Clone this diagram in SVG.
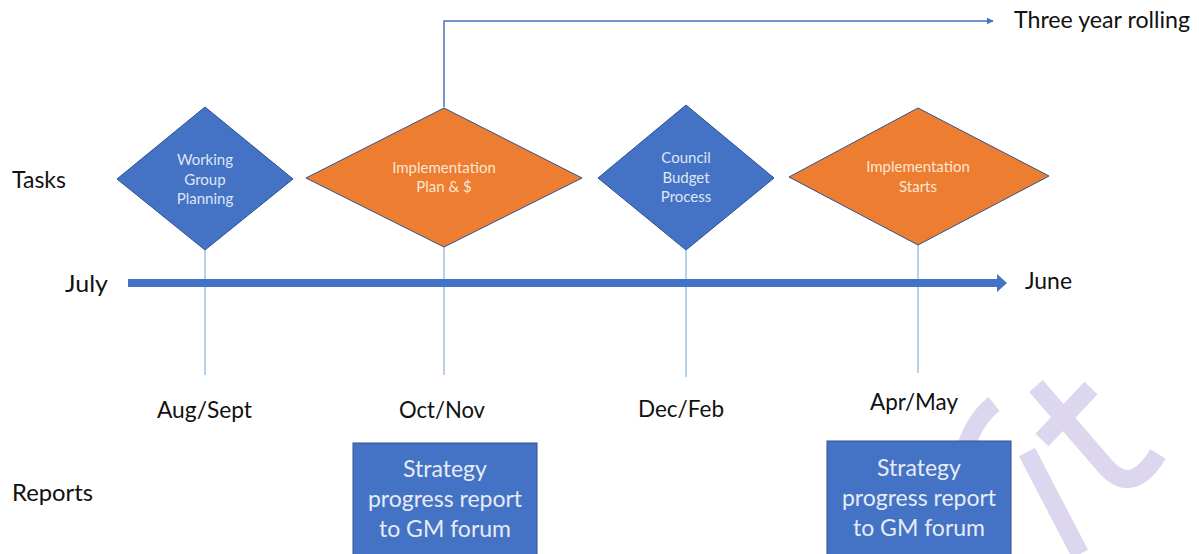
<svg xmlns="http://www.w3.org/2000/svg" width="1199" height="554" viewBox="0 0 1199 554">
<defs>
<marker id="arrowSmall" viewBox="0 0 10 10" refX="9" refY="5" markerWidth="7" markerHeight="7" markerUnits="userSpaceOnUse" orient="auto">
<path d="M0,0 L10,5 L0,10 z" fill="#4472C4"/>
</marker>
<style>
.lbl{font-family:Lato,"Open Sans","Liberation Sans",sans-serif;font-size:23px;fill:#111}
.dtxt{font-family:Lato,"Open Sans","Liberation Sans",sans-serif;font-size:15px;text-anchor:middle}
.onblue{fill:#DDE7F6}
.onorange{fill:#FCE6D4}
.blue{fill:#4472C4;stroke:#2F528F;stroke-width:1}
.orange{fill:#ED7D31;stroke:#2F528F;stroke-width:1}
.drop{stroke:#9DC3E6;stroke-width:1.5;fill:none}
.btxt{font-family:Lato,"Open Sans","Liberation Sans",sans-serif;font-size:23px;fill:#E6ECF7;text-anchor:middle}
.wm{fill:none;stroke:#DCD6EE;stroke-width:18}
</style>
</defs>
<rect width="1199" height="554" fill="#ffffff"/>

<!-- watermark fragments -->
<g id="watermark">
<path class="wm" d="M994 404 Q976 418 966 446"/>
<path class="wm" d="M1027 452 L1080 554"/>
<path class="wm" d="M1036 386 L1105 466 Q1132 497 1158 454"/>
<path class="wm" d="M1091 388 L1042 440"/>
</g>

<g id="connectors">
<line class="drop" x1="205" y1="250" x2="205" y2="375"/>
<line class="drop" x1="444" y1="247" x2="444" y2="375"/>
<line class="drop" x1="686" y1="250" x2="686" y2="377"/>
<line class="drop" x1="918" y1="245" x2="918" y2="373"/>
<polyline points="444,107 444,21 993,21" fill="none" stroke="#4472C4" stroke-width="1.5" marker-end="url(#arrowSmall)"/>
<path d="M128 279 L997 279 L997 274 L1007 283 L997 292 L997 287 L128 287 z" fill="#4472C4"/>
</g>

<g id="labels">
<text class="lbl" x="12" y="188" textLength="54" lengthAdjust="spacingAndGlyphs">Tasks</text>
<text class="lbl" x="65" y="292" textLength="43" lengthAdjust="spacingAndGlyphs">July</text>
<text class="lbl" x="1025" y="289" textLength="47" lengthAdjust="spacingAndGlyphs">June</text>
<text class="lbl" x="12" y="501" textLength="81" lengthAdjust="spacingAndGlyphs">Reports</text>
<text class="lbl" x="1014" y="28" textLength="176" lengthAdjust="spacingAndGlyphs">Three year rolling</text>
<text class="lbl" x="157" y="418" textLength="95" lengthAdjust="spacingAndGlyphs">Aug/Sept</text>
<text class="lbl" x="399" y="418" textLength="86" lengthAdjust="spacingAndGlyphs">Oct/Nov</text>
<text class="lbl" x="638" y="417" textLength="86" lengthAdjust="spacingAndGlyphs">Dec/Feb</text>
<text class="lbl" x="870" y="410" textLength="88" lengthAdjust="spacingAndGlyphs">Apr/May</text>
</g>

<g id="node-working-group">
<polygon class="blue" points="205,107 293,179 205,250 117,179"/>
<text class="dtxt onblue" x="205" y="165">Working</text>
<text class="dtxt onblue" x="205" y="185">Group</text>
<text class="dtxt onblue" x="205" y="204">Planning</text>
</g>

<g id="node-implementation-plan">
<polygon class="orange" points="444,108 582,178 444,247 306,178"/>
<text class="dtxt onorange" x="444" y="173">Implementation</text>
<text class="dtxt onorange" x="444" y="192">Plan &amp; $</text>
</g>

<g id="node-council-budget">
<polygon class="blue" points="686,105 774,178 686,250 598,178"/>
<text class="dtxt onblue" x="686" y="163">Council</text>
<text class="dtxt onblue" x="686" y="183">Budget</text>
<text class="dtxt onblue" x="686" y="202">Process</text>
</g>

<g id="node-implementation-starts">
<polygon class="orange" points="918,108 1049,176 918,245 789,177"/>
<text class="dtxt onorange" x="918" y="172">Implementation</text>
<text class="dtxt onorange" x="918" y="192">Starts</text>
</g>

<g id="node-report-1">
<rect class="blue" x="353" y="443" width="184" height="115"/>
<text class="btxt" x="445" y="477">Strategy</text>
<text class="btxt" x="445" y="507">progress report</text>
<text class="btxt" x="445" y="537">to GM forum</text>
</g>

<g id="node-report-2">
<rect class="blue" x="827" y="441" width="184" height="117"/>
<text class="btxt" x="919" y="476">Strategy</text>
<text class="btxt" x="919" y="506">progress report</text>
<text class="btxt" x="919" y="536">to GM forum</text>
</g>
</svg>
